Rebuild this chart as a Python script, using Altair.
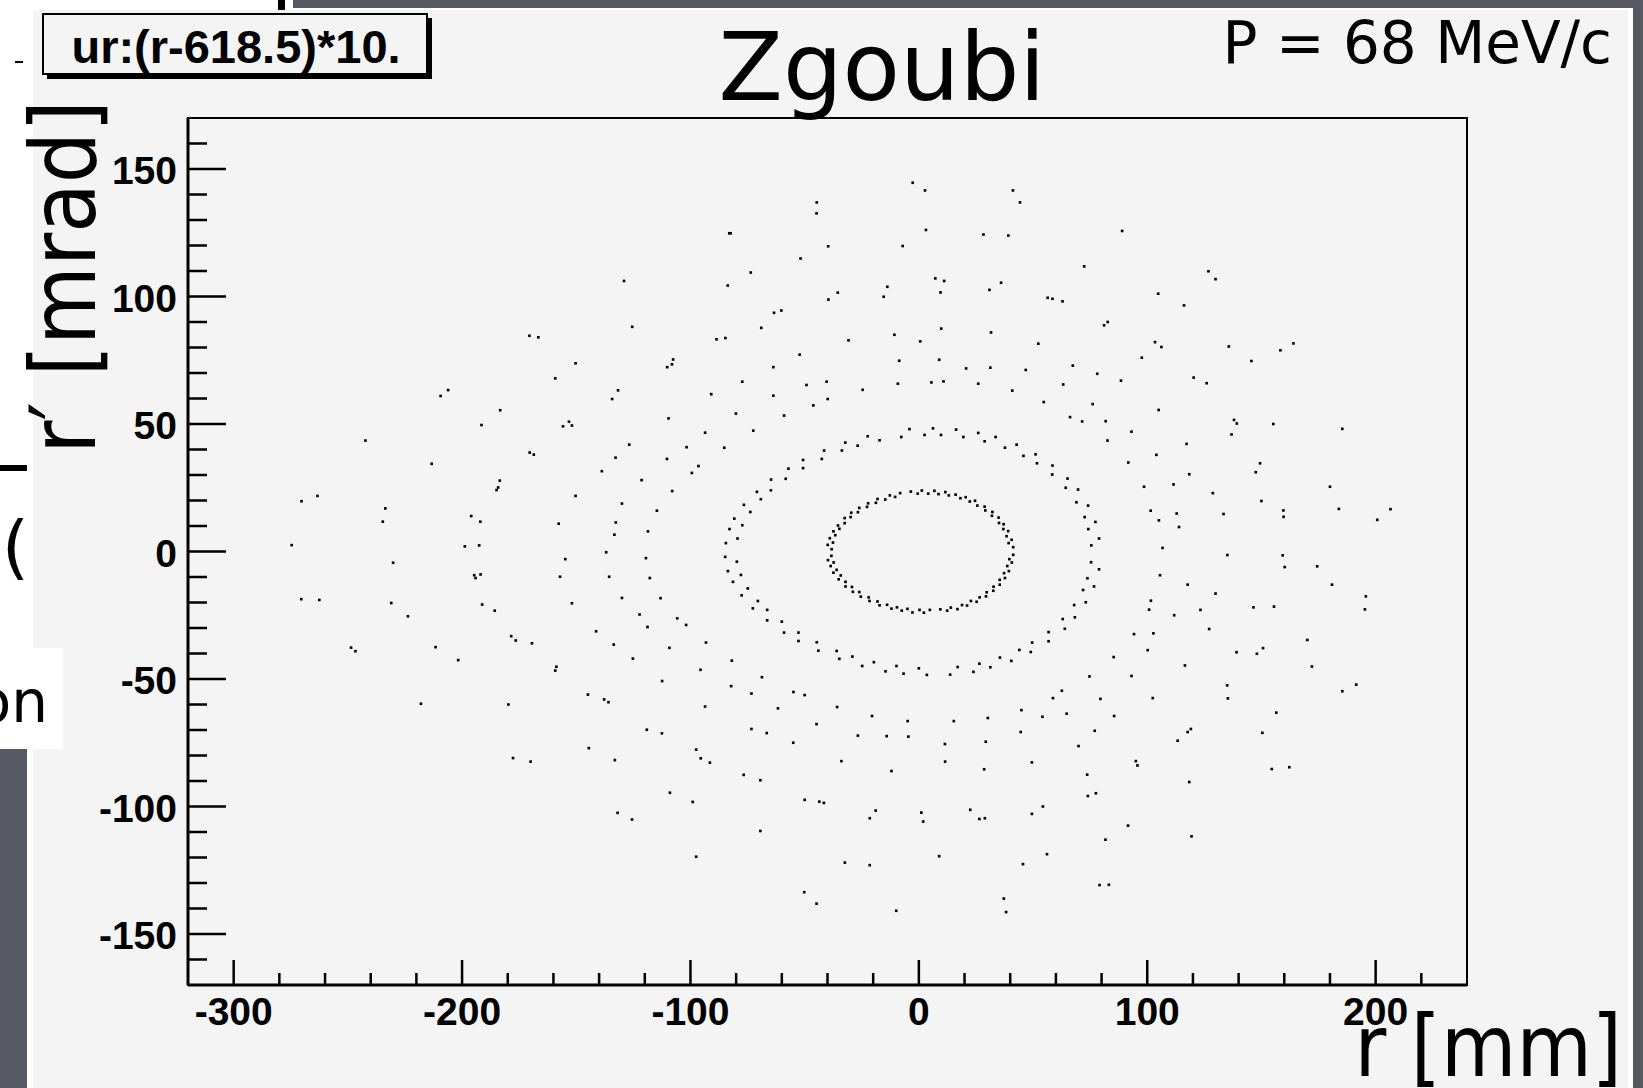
import altair as alt
import pandas as pd

# ---------------- data (r [mm], r' [mrad]) ----------------
inner_ring = [
    (-3.5, 23.5), (-0.5, 22.7), (1.3, 23.9), (4.1, 22.7), (6.8, 23.8), (8.6, 22.5), (11.6, 23.3), (13.1, 22.0),
    (16.1, 22.3), (18.2, 20.9), (20.5, 21.3), (22.3, 19.6), (24.6, 19.9), (25.6, 18.0), (28.8, 17.6), (29.1, 16.1),
    (32.2, 15.5), (32.0, 14.0), (34.9, 13.3), (35.1, 11.2), (37.1, 10.7), (37.0, 8.8), (39.1, 8.0), (38.4, 6.0),
    (40.6, 4.6), (39.3, 3.3), (41.3, 1.7), (41.3, -1.3), (39.6, -3.0), (40.7, -4.3), (38.7, -5.7), (39.4, -7.7),
    (37.3, -8.5), (37.7, -10.4), (35.4, -11.1), (35.4, -13.0), (32.7, -13.8), (32.6, -15.4), (29.7, -16.0),
    (29.4, -17.6), (26.6, -18.0), (25.3, -19.7), (22.8, -19.4), (21.1, -21.2), (18.9, -21.0), (16.9, -22.6),
    (14.0, -22.0), (12.4, -23.2), (9.4, -22.7), (4.8, -22.9), (2.2, -24.0), (0.3, -22.9), (-2.8, -23.9),
    (-5.0, -22.5), (-7.5, -23.2), (-9.6, -21.9), (-12.0, -22.4), (-13.9, -20.9), (-17.2, -21.1), (-18.1, -19.6),
    (-21.6, -19.4), (-22.0, -18.0), (-25.4, -17.7), (-26.1, -15.9), (-28.9, -15.8), (-29.3, -13.9), (-32.1, -13.7),
    (-32.1, -11.9), (-35.1, -10.9), (-34.2, -9.4), (-37.4, -8.3), (-36.0, -7.2), (-38.6, -5.7), (-37.3, -4.3),
    (-39.8, -3.4), (-38.3, -1.7), (-38.2, 0.9), (-39.9, 2.6), (-37.6, 3.5), (-39.0, 5.2), (-36.6, 6.4), (-37.4, 7.9),
    (-34.8, 8.9), (-35.4, 10.2), (-32.5, 11.1), (-32.5, 13.1), (-29.9, 13.5), (-29.6, 15.2), (-26.7, 15.4),
    (-26.1, 17.1), (-22.7, 17.5), (-22.2, 18.9), (-18.8, 19.1), (-18.1, 20.6), (-14.7, 20.4), (-12.7, 22.0),
    (-10.4, 21.4), (-8.2, 22.9),
]

middle_ring = [
    (-7.7, 44.9), (-4.1, 48.0), (2.5, 45.7), (6.2, 48.3), (9.7, 45.7), (16.3, 47.8), (19.5, 44.9), (26.0, 46.5),
    (28.8, 43.2), (33.6, 44.9), (37.7, 40.7), (42.8, 41.9), (45.8, 37.5), (51.1, 38.1), (51.7, 34.6), (58.5, 33.7),
    (58.4, 30.2), (65.1, 28.6), (64.3, 25.0), (69.7, 24.3), (69.0, 19.3), (74.1, 18.0), (72.6, 13.5), (77.3, 11.6),
    (74.2, 8.8), (75.5, 2.4), (78.9, 5.1), (75.4, -4.2), (78.9, -7.0), (73.8, -10.5), (76.7, -13.7), (71.9, -15.1),
    (73.1, -19.9), (68.0, -21.0), (68.3, -25.8), (63.0, -26.5), (63.9, -30.3), (56.8, -31.6), (56.8, -35.2),
    (49.6, -35.7), (49.0, -39.4), (44.0, -38.6), (40.5, -42.9), (35.5, -41.6), (31.3, -45.4), (26.5, -44.0),
    (23.9, -47.2), (17.0, -45.3), (13.7, -48.3), (3.5, -48.4), (0.0, -45.8), (-6.7, -47.9), (-9.8, -44.9),
    (-14.6, -47.0), (-19.7, -43.4), (-24.8, -44.9), (-29.1, -41.2), (-34.8, -42.1), (-36.0, -39.0), (-44.0, -38.9),
    (-44.7, -35.6), (-52.7, -35.1), (-52.7, -31.8), (-59.0, -31.8), (-60.0, -27.5), (-66.4, -27.0), (-66.4, -22.9),
    (-72.7, -22.3), (-70.5, -19.4), (-77.6, -17.2), (-74.9, -14.5), (-81.4, -11.9), (-77.9, -9.2), (-83.6, -7.7),
    (-79.7, -4.0), (-84.8, -2.1), (-84.5, 3.3), (-79.4, 5.1), (-82.9, 8.8), (-77.3, 10.3), (-80.8, 12.9),
    (-73.8, 15.5), (-76.6, 18.3), (-69.2, 20.5), (-70.9, 23.4), (-64.8, 24.0), (-64.7, 28.2), (-58.3, 28.5),
    (-57.1, 32.5), (-50.7, 32.7), (-50.7, 35.9), (-42.5, 36.3), (-41.5, 39.6), (-33.7, 39.6), (-32.2, 42.7),
    (-26.8, 41.5), (-22.4, 45.2), (-17.2, 43.6),
]

near_scatter = [
    (-77.3, 66.6), (-49.2, 65.3), (-40.4, 66.6), (-9.2, 65.8), (5.5, 66.3), (10.8, 66.7), (26.0, 65.8), (63.2, 65.5),
    (-90.9, 61.7), (-63.7, 61.1), (-39.9, 59.8), (-24.6, 63.4), (-46.2, 57.3), (40.9, 63.1), (54.7, 58.6),
    (76.1, 57.8), (-80.1, 54.1), (-59.0, 53.3), (66.2, 52.7), (71.5, 51.0), (-93.6, 46.6), (-72.5, 47.4),
    (-85.2, 40.7), (-93.2, -35.7), (-81.9, -42.8), (-68.7, -49.3), (74.7, -49.0),
]

far_upper_left = [
    (-170.5, 84.6), (-166.6, 84.0), (-150.3, 73.8), (-159.2, 67.9), (-206.1, 63.3), (-209.4, 61.0), (-131.7, 63.2),
    (-134.3, 59.8), (-183.3, 55.4), (-191.5, 49.6), (-153.2, 50.9), (-155.8, 49.1), (-151.9, 49.4), (-242.3, 43.5),
    (-170.4, 38.8), (-168.6, 38.0), (-213.3, 34.4), (-132.8, 36.8), (-138.8, 31.5), (-183.5, 27.8), (-184.2, 25.1),
    (-184.9, 24.1), (-270.3, 19.7), (-263.3, 21.8), (-150.3, 21.8), (-233.6, 16.9), (-234.7, 11.7), (-196.0, 13.9),
    (-192.0, 11.7), (-157.7, 10.9), (-132.7, 11.4), (-133.3, 6.6), (-274.6, 2.5), (-198.8, 2.0), (-192.5, 2.4),
    (-136.9, -0.3),
]

far_lower_left = [
    (-230.2, -4.4), (-194.7, -9.3), (-194.1, -10.4), (-191.9, -9.0), (-154.8, -3.0), (-157.1, -9.9), (-135.6, -9.9),
    (-270.4, -18.7), (-262.5, -19.0), (-231.0, -20.2), (-223.7, -25.4), (-191.2, -20.8), (-185.7, -23.2),
    (-151.9, -20.3), (-141.3, -31.3), (-178.5, -33.2), (-176.5, -34.9), (-169.4, -36.0), (-133.6, -36.5),
    (-248.6, -37.7), (-246.7, -39.1), (-211.6, -37.5), (-201.7, -42.6), (-158.7, -45.2), (-159.2, -46.7),
    (-144.9, -56.1), (-137.8, -58.0), (-135.9, -59.1), (-218.0, -59.7), (-179.7, -60.0), (-144.5, -77.1),
    (-177.7, -81.0), (-170.0, -82.4), (-133.1, -81.8), (-131.9, -102.5),
]

far_upper_middle = [
    (-2.7, 144.6), (2.7, 141.6), (41.2, 141.6), (44.3, 136.9), (-44.7, 136.9), (-44.8, 132.6), (-83.0, 124.8),
    (-82.4, 124.8), (3.1, 126.1), (28.3, 124.3), (39.2, 123.9), (-39.7, 119.7), (-7.1, 119.8), (-51.8, 114.9),
    (-73.6, 109.4), (-129.1, 106.1), (-83.7, 104.3), (7.2, 107.1), (11.1, 106.1), (9.5, 101.6), (36.0, 105.4),
    (30.9, 102.6), (56.4, 99.5), (-13.8, 103.8), (-15.4, 99.9), (-35.5, 101.5), (-39.6, 98.8), (-63.4, 93.6),
    (-60.2, 94.5), (-125.5, 88.1), (-69.0, 87.7), (-88.6, 83.2), (-84.7, 83.7), (-30.8, 82.8), (-10.7, 85.0),
    (0.6, 82.4), (9.8, 87.4), (31.6, 85.9), (52.3, 81.5), (-107.6, 75.3), (-108.1, 73.4), (-110.2, 72.3),
    (-52.2, 77.2), (-63.7, 72.3), (-8.6, 74.8), (8.9, 75.2), (20.7, 71.8), (31.3, 72.1), (46.8, 71.2),
    (-109.6, 52.2), (-126.8, 41.9), (-110.3, 36.3), (-101.7, 40.9), (-96.5, 33.5), (-99.4, 30.8), (-121.4, 28.0),
    (-108.0, 23.7), (-130.0, 18.8), (-114.7, 16.0), (-118.6, 7.9),
]

far_upper_right = [
    (89.0, 125.7), (72.4, 111.8), (126.8, 109.9), (129.9, 106.8), (58.5, 99.1), (62.9, 98.1), (104.8, 101.1),
    (116.1, 96.5), (82.7, 90.0), (81.1, 88.7), (103.4, 82.1), (106.2, 80.2), (97.6, 76.0), (135.7, 80.4),
    (158.3, 78.9), (164.0, 81.6), (145.6, 74.7), (67.4, 72.9), (78.1, 69.7), (88.5, 67.0), (120.3, 68.2),
    (126.0, 66.0), (105.0, 55.5), (81.8, 51.1), (93.1, 47.0), (82.6, 43.5), (138.0, 51.6), (139.2, 50.2),
    (136.9, 45.9), (155.2, 50.0), (185.4, 48.1), (117.2, 42.2), (104.0, 37.9), (91.7, 34.9), (149.4, 34.6),
    (147.5, 31.1), (118.4, 30.3), (98.6, 25.4), (111.5, 26.3), (128.7, 22.9), (101.5, 16.0), (112.9, 14.9),
    (105.1, 12.2), (113.9, 9.6), (106.7, 1.4), (133.4, 14.7), (150.0, 19.8), (159.6, 16.1), (159.7, 13.6),
    (180.0, 25.4), (183.9, 16.7), (200.7, 12.4), (206.5, 16.6),
]

far_lower_middle = [
    (-119.5, -2.6), (-117.8, -10.4), (-130.0, -18.2), (-113.1, -18.3), (-122.3, -24.7), (-118.8, -29.6),
    (-105.8, -26.2), (-101.9, -28.8), (-109.2, -37.8), (-125.2, -42.0), (-112.4, -50.8), (-95.6, -46.4),
    (-93.6, -60.8), (-119.1, -69.9), (-112.5, -71.3), (-97.5, -77.7), (-95.5, -81.1), (-91.5, -82.8),
    (-109.0, -94.6), (-99.0, -98.2), (-125.6, -105.1), (-97.5, -119.7), (-82.2, -52.8), (-73.3, -55.7),
    (-61.7, -61.5), (-54.9, -55.1), (-50.0, -56.3), (-73.3, -69.6), (-66.6, -71.2), (-55.0, -75.0), (-44.8, -67.7),
    (-35.8, -61.0), (-20.5, -64.5), (-26.7, -72.2), (-14.1, -72.4), (-4.9, -66.5), (-4.6, -72.6), (15.3, -66.5),
    (30.2, -65.3), (11.4, -75.5), (11.5, -82.4), (29.3, -74.6), (28.6, -85.4), (44.9, -62.2), (44.6, -70.8),
    (54.1, -64.8), (49.5, -82.7), (-33.9, -82.2), (-12.0, -86.1), (-76.7, -87.6), (-69.4, -89.7), (-50.0, -97.4),
    (-43.6, -98.1), (-41.6, -98.6), (-21.5, -104.6), (-18.9, -101.6), (1.1, -102.4), (1.9, -105.9), (22.5, -101.3),
    (26.5, -104.9), (28.9, -104.6), (49.5, -102.9), (54.3, -100.0), (-69.4, -109.6), (-32.4, -122.0),
    (-21.5, -123.0), (8.9, -119.5), (45.6, -122.6), (56.1, -118.7), (-50.2, -133.6), (-44.8, -138.1),
    (-9.9, -140.9), (37.2, -136.1), (38.2, -141.4),
]

far_lower_right = [
    (135.1, -1.4), (159.3, -1.5), (160.2, -6.1), (174.4, -5.8), (105.6, -9.3), (117.7, -13.0), (129.9, -16.5),
    (180.9, -13.0), (195.7, -17.6), (195.3, -22.7), (146.5, -21.9), (155.5, -21.6), (101.6, -19.3), (100.8, -22.8),
    (111.8, -25.0), (123.3, -22.9), (127.1, -30.4), (94.2, -32.4), (102.7, -32.1), (100.2, -38.7), (85.3, -41.4),
    (139.1, -39.5), (148.0, -40.1), (150.7, -37.9), (170.1, -34.7), (172.1, -45.1), (116.5, -44.7), (93.1, -48.8),
    (62.6, -54.6), (58.7, -57.5), (79.5, -57.8), (102.4, -57.5), (64.7, -63.6), (85.5, -64.5), (135.0, -52.5),
    (135.3, -57.6), (185.4, -54.8), (191.5, -52.2), (156.5, -63.2), (150.4, -71.1), (77.0, -70.3), (69.9, -76.3),
    (119.1, -69.6), (117.7, -70.8), (113.3, -74.2), (95.0, -82.2), (95.7, -83.9), (73.7, -87.5), (74.0, -95.9),
    (77.5, -94.8), (118.4, -90.4), (154.5, -85.3), (162.2, -84.6), (91.6, -107.5), (81.7, -113.0), (119.4, -111.7),
    (79.1, -130.8), (83.2, -130.7),
]

x_major = [-300, -200, -100, 0, 100, 200]
x_minor = [v for v in range(-280, 240, 20) if v % 100 != 0]
y_major = [-150, -100, -50, 0, 50, 100, 150]
y_minor = [v for v in range(-160, 170, 10) if v % 50 != 0]

title_text = "Zgoubi"
momentum_text = "P = 68 MeV/c"
stats_text = "ur:(r-618.5)*10."
x_title = "r [mm]"
y_title = "r\u2032 [mrad]"

# ---------------- layout ----------------
W, H = 1279, 867           # plot frame
PADL, PADT = 188, 118
PADR, PADB = 1643 - PADL - W, 1088 - PADT - H
PANEL = "#f4f4f4"
DARK = "#565961"

all_pts = (inner_ring + middle_ring + near_scatter + far_upper_left + far_lower_left +
           far_upper_middle + far_upper_right + far_lower_middle + far_lower_right)
pts = pd.DataFrame(all_pts, columns=["r", "rp"])

xs = alt.Scale(domain=[-320, 240], nice=False, zero=False)
ys = alt.Scale(domain=[-170, 170], nice=False, zero=False)
one = pd.DataFrame({"k": [0]})


def rect(x0, x1, y0, y1, color, **kw):
    return alt.Chart(one).mark_rect(color=color, **kw).encode(
        x=alt.value(x0 - PADL), x2=alt.value(x1 - PADL),
        y=alt.value(y0 - PADT), y2=alt.value(y1 - PADT))


def text(txt, x, y, size, font, weight="normal", align="center", angle=0):
    return alt.Chart(one).mark_text(
        text=txt, font=font, fontSize=size, fontWeight=weight, align=align,
        baseline="alphabetic", angle=angle, color="black").encode(
        x=alt.value(x - PADL), y=alt.value(y - PADT))


SLIDE_FONT = "DejaVu Sans"
COND_FONT = "DejaVu Sans Condensed, DejaVu Sans"
LAB_FONT = "Liberation Sans"

deco = [
    # slide surroundings
    rect(0, 293, 0, 10, "white"),
    rect(0, 33, 0, 648, "white"),
    rect(293, 1643, 0, 8, DARK),
    rect(293, 1633, 8, 10, "white"),
    rect(1628, 1633, 8, 1088, "white"),
    rect(1633, 1643, 0, 1088, DARK),
    rect(0, 27, 749, 1088, DARK),
    rect(27, 33, 749, 1088, "white"),
    rect(278, 285, 0, 10, "black"),
    rect(15, 23, 61, 63, "black"),
    rect(0, 27, 465, 471, "black"),
    text("0(", 29, 571, 70, SLIDE_FONT, align="right"),
    rect(0, 63, 648, 749, "white"),
    text("on", 48, 722, 58, SLIDE_FONT, align="right"),
    # titles
    text(title_text, 882, 100, 94, SLIDE_FONT),
    text(momentum_text, 1612, 63, 58, SLIDE_FONT, align="right"),
    text(y_title, 95, 277, 90, COND_FONT, angle=270),
    text(x_title, 1622, 1076, 86, COND_FONT, align="right"),
    # stats box
    rect(47, 432, 18, 79, "black"),
    alt.Chart(one).mark_rect(fill=PANEL, stroke="black", strokeWidth=2).encode(
        x=alt.value(43 - PADL), x2=alt.value(427 - PADL),
        y=alt.value(14 - PADT), y2=alt.value(74 - PADT)),
    text(stats_text, 236, 63, 47, LAB_FONT, weight="bold"),
]

scatter = alt.Chart(pts).mark_square(size=7, color="black", opacity=1).encode(
    x=alt.X("r:Q", scale=xs, axis=None),
    y=alt.Y("rp:Q", scale=ys, axis=None),
)


def xticks(vals, length):
    return alt.Chart(pd.DataFrame({"v": vals})).mark_rule(color="black", strokeWidth=2.5).encode(
        x=alt.X("v:Q", scale=xs, axis=None), y=alt.value(H), y2=alt.value(H - length))


def yticks(vals, length):
    return alt.Chart(pd.DataFrame({"v": vals})).mark_rule(color="black", strokeWidth=2.5).encode(
        y=alt.Y("v:Q", scale=ys, axis=None), x=alt.value(0), x2=alt.value(length))


xlabels = alt.Chart(pd.DataFrame({"v": x_major, "t": [str(v) for v in x_major]})).mark_text(
    font=LAB_FONT, fontWeight="bold", fontSize=39, color="black", align="center", baseline="top"
).encode(x=alt.X("v:Q", scale=xs, axis=None), y=alt.value(H + 9), text="t:N")

ylabels = alt.Chart(pd.DataFrame({"v": y_major, "t": [str(v) for v in y_major]})).mark_text(
    font=LAB_FONT, fontWeight="bold", fontSize=39, color="black", align="right", baseline="middle", dy=3
).encode(y=alt.Y("v:Q", scale=ys, axis=None), x=alt.value(-11), text="t:N")

frame = alt.Chart(one).mark_rect(fill="transparent", stroke="black", strokeWidth=2).encode(
    x=alt.value(0), x2=alt.value(W), y=alt.value(0), y2=alt.value(H))
left_line = alt.Chart(one).mark_rule(color="black", strokeWidth=3).encode(
    x=alt.value(0), y=alt.value(0), y2=alt.value(H))
bottom_line = alt.Chart(one).mark_rule(color="black", strokeWidth=3).encode(
    y=alt.value(H), x=alt.value(0), x2=alt.value(W))

chart = alt.layer(
    *deco,
    xticks(x_major, 25), xticks(x_minor, 12),
    yticks(y_major, 38), yticks(y_minor, 19),
    frame, left_line, bottom_line,
    xlabels, ylabels,
    scatter,
).properties(
    width=W, height=H,
    autosize=alt.AutoSizeParams(type="none"),
    padding={"left": PADL, "top": PADT, "right": PADR, "bottom": PADB},
    background=PANEL,
).configure_view(stroke=None)

chart.save("out.html", embed_options={"renderer": "svg", "actions": False})
